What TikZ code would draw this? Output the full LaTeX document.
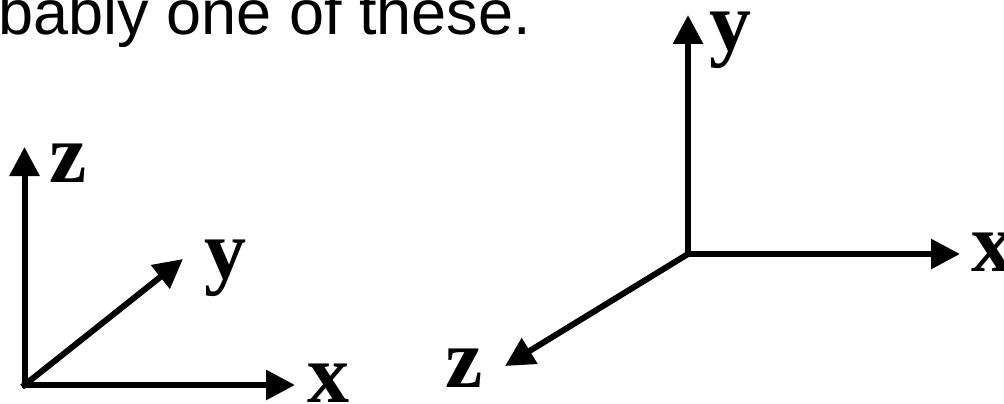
\documentclass[tikz,border=0pt]{standalone}
\usepackage{fontspec}
\setmainfont{Liberation Sans}
\newfontfamily\lblfont{Liberation Serif}
\usetikzlibrary{arrows.meta}
\tikzset{
  axis/.style={line width=6pt, line cap=rect, -{Triangle[length=29pt,width=29pt]}},
  lbl/.style={anchor=base west, inner sep=0pt, font=\lblfont\bfseries\fontsize{84}{84}\selectfont},
  caption/.style={anchor=base west, inner sep=0pt, font=\fontsize{63}{63}\selectfont}
}
\begin{document}
\begin{tikzpicture}[x=1pt,y=-1pt]
\useasboundingbox (0,0) rectangle (1004,404);
\node[caption] (cap) at (-1.5,35) {bably one of these.};
% left system
\coordinate (Lo) at (24.5,385);
\coordinate (Lz) at (24.5,147);
\coordinate (Ly) at (183,259);
\coordinate (Lx) at (295,385);
\draw[axis] (Lo) -- (Lz);
\draw[axis] (Lo) -- (Ly);
\draw[axis] (Lo) -- (Lx);
\node[lbl] (Lzl) at (49,182) {z};
\node[lbl] (Lyl) at (204,278) {y};
\node[lbl] (Lxl) at (307,402) {x};
% right system
\coordinate (Ro) at (688,254);
\coordinate (Ry) at (688,15);
\coordinate (Rx) at (960,254);
\coordinate (Rz) at (505,366);
\draw[axis] (Ro) -- (Ry);
\draw[axis] (Ro) -- (Rx);
\draw[axis] (Ro) -- (Rz);
\node[lbl] (Ryl) at (709,51) {y};
\node[lbl] (Rxl) at (971,271) {x};
\node[lbl] (Rzl) at (445,387) {z};
\end{tikzpicture}
\end{document}
